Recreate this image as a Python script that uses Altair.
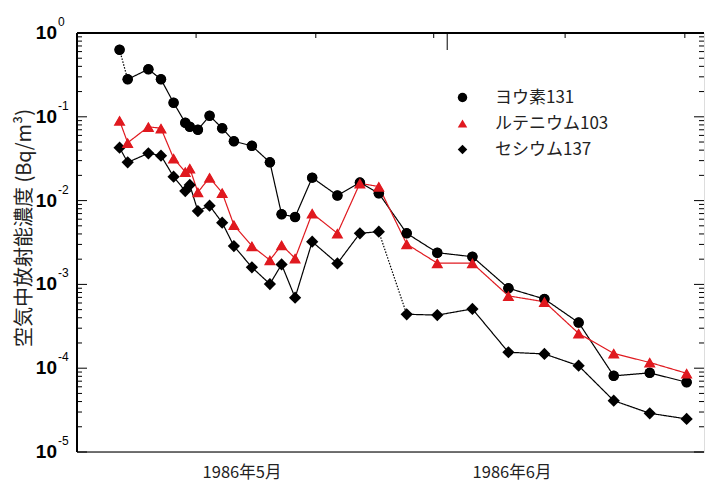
import altair as alt
import pandas as pd

# ---- data ----
series_names = ["ヨウ素131", "ルテニウム103", "セシウム137"]
# sampling time, in days counted from 1986-05-01 (= day 1)
days = [2.4, 3.3, 5.6, 7.0, 8.4, 9.7, 10.2, 11.1, 12.4, 13.8, 15.1, 17.1, 19.1, 20.4,
        21.9, 23.8, 26.6, 29.1, 31.2, 34.3, 37.7, 41.6, 45.6, 49.6, 53.4, 57.3, 61.3, 65.4]
iodine131 = [0.63, 0.28, 0.37, 0.28, 0.147, 0.085, 0.076, 0.070, 0.103, 0.073, 0.051, 0.045,
             0.0286, 0.00686, 0.00637, 0.0188, 0.0115, 0.0164, 0.0122, 0.00407, 0.00239,
             0.00214, 0.00090, 0.00067, 0.00035, 8.1e-5, 8.8e-5, 6.8e-5]
ruthenium103 = [0.090, 0.049, 0.076, 0.073, 0.032, 0.022, 0.0243, 0.0126, 0.0188, 0.0124,
                0.00512, 0.00287, 0.00195, 0.00295, 0.00205, 0.00705, 0.00407, 0.0161,
                0.0147, 0.00303, 0.00179, 0.00179, 0.00073, 0.00062, 0.00026, 0.000150,
                0.000117, 8.7e-5]
cesium137 = [0.0428, 0.0286, 0.0367, 0.0344, 0.0193, 0.0130, 0.0154, 0.0075, 0.0087, 0.00545,
             0.00287, 0.0016, 0.00101, 0.00173, 0.000695, 0.00323, 0.00178, 0.00407, 0.00426,
             0.00044, 0.00043, 0.00051, 0.000155, 0.000148, 0.000107, 4.1e-5, 2.9e-5, 2.48e-5]
dotted_segments = [("ヨウ素131", 0), ("セシウム137", 18)]

month_labels = ["1986年5月", "1986年6月"]
month_label_days = [16, 46]
top_tick_days = [10.9, 24.2, 37.3, 51.9, 65.2]
long_top_tick_days = [38.8]
decade_exponents = [0, -1, -2, -3, -4, -5]
y_title = "空気中放射能濃度 (Bq/m³)"

# ---- tables ----
W, H = 627, 419
values = {"ヨウ素131": iodine131, "ルテニウム103": ruthenium103, "セシウム137": cesium137}
colors = ["#000000", "#e0191f", "#000000"]
shapes = ["circle", "triangle-up", "diamond"]
marker_sizes = [110, 140, 150]
color_of = dict(zip(series_names, colors))
draw_order = ["ヨウ素131", "セシウム137", "ルテニウム103"]

pts = pd.DataFrame([{"series": s, "day": d, "v": v}
                    for s in draw_order for d, v in zip(days, values[s])])
major = pd.DataFrame({"v": [10.0 ** e for e in decade_exponents],
                      "exp": [str(e) for e in decade_exponents]})
minor = pd.DataFrame({"v": [k * 10.0 ** e for e in decade_exponents[1:] for k in range(2, 10)]})
months = pd.DataFrame({"day": month_label_days, "label": month_labels})
top_ticks = pd.DataFrame({"day": top_tick_days})
long_ticks = pd.DataFrame({"day": long_top_tick_days})
one = pd.DataFrame({"a": [0]})

xs = alt.Scale(domain=[-2.33, 67.33], nice=False, zero=False)
ys = alt.Scale(type="log", domain=[1e-5, 1], nice=False)
cs = alt.Scale(domain=series_names, range=colors)
ss = alt.Scale(domain=series_names, range=shapes)
X = lambda f: alt.X(f, scale=xs, axis=None)
Y = lambda f: alt.Y(f, scale=ys, axis=None)

line_layers = []
for s in draw_order:
    for style, dash in [("solid", [1, 0]), ("dotted", [1.5, 1.5])]:
        seg = pd.DataFrame([{"x": days[i], "x2": days[i + 1],
                             "y": values[s][i], "y2": values[s][i + 1]}
                            for i in range(len(days) - 1)
                            if ((s, i) in dotted_segments) == (style == "dotted")])
        if len(seg):
            line_layers.append(
                alt.Chart(seg).mark_rule(strokeWidth=1.2, color=color_of[s],
                                         strokeDash=dash).encode(
                    x=X("x:Q"), x2="x2:Q", y=Y("y:Q"), y2="y2:Q"))

leg = alt.Legend(title=None, orient="none", legendX=377, legendY=56,
                 labelFontSize=17, labelFont="Noto Sans CJK JP", labelColor="#222",
                 symbolSize=90, symbolStrokeWidth=0, labelOffset=24, rowPadding=8,
                 padding=0)
# legend-bearing layer (legend symbols small, as in the reference)
points = alt.Chart(pts).mark_point(filled=True, opacity=1, size=100).encode(
    x=X("day:Q"), y=Y("v:Q"),
    color=alt.Color("series:N", scale=cs, legend=leg),
    shape=alt.Shape("series:N", scale=ss, legend=leg),
)
# the plotted markers, per series, in drawing order
marker_layers = []
for s in draw_order:
    k = series_names.index(s)
    marker_layers.append(
        alt.Chart(pd.DataFrame({"day": days, "v": values[s]})).mark_point(
            filled=True, opacity=1, shape=shapes[k], color=colors[k],
            size=marker_sizes[k]).encode(x=X("day:Q"), y=Y("v:Q")))

frame_top = alt.Chart(one).mark_rule(color="#000", strokeWidth=2).encode(
    x=alt.value(0), x2=alt.value(W), y=alt.value(0))
frame_left = alt.Chart(one).mark_rule(color="#000", strokeWidth=2).encode(
    x=alt.value(0), y=alt.value(0), y2=alt.value(H))
frame_bottom = alt.Chart(one).mark_rule(color="#444", strokeWidth=1.5).encode(
    x=alt.value(0), x2=alt.value(W), y=alt.value(H))

lmaj = alt.Chart(major).mark_rule(color="#000", strokeWidth=1).encode(
    y=Y("v:Q"), x=alt.value(0), x2=alt.value(10))
lmin = alt.Chart(minor).mark_rule(color="#000", strokeWidth=1).encode(
    y=Y("v:Q"), x=alt.value(0), x2=alt.value(5))
rmaj = alt.Chart(major).mark_rule(color="#000", strokeWidth=1).encode(
    y=Y("v:Q"), x=alt.value(W - 10), x2=alt.value(W))
rmin = alt.Chart(minor).mark_rule(color="#000", strokeWidth=1).encode(
    y=Y("v:Q"), x=alt.value(W - 5), x2=alt.value(W))
tticks = alt.Chart(top_ticks).mark_rule(color="#000", strokeWidth=1).encode(
    x=X("day:Q"), y=alt.value(0), y2=alt.value(5))
lticks = alt.Chart(long_ticks).mark_rule(color="#000", strokeWidth=1).encode(
    x=X("day:Q"), y=alt.value(0), y2=alt.value(17))

ten = alt.Chart(major).mark_text(text="10", font="Liberation Sans", fontSize=19,
                                 fontWeight="bold", align="right", baseline="middle",
                                 color="#000").encode(y=Y("v:Q"), x=alt.value(-20))
expo = alt.Chart(major).mark_text(font="Liberation Sans", fontSize=12, align="left",
                                  baseline="middle", dy=-11, color="#000").encode(
    y=Y("v:Q"), x=alt.value(-19), text="exp:N")

mlab = alt.Chart(months).mark_text(font="Noto Sans CJK JP", fontSize=16.5, align="center",
                                   baseline="middle", color="#222").encode(
    x=X("day:Q"), y=alt.value(H + 21), text="label:N")

ytitle = alt.Chart(one).mark_text(text=y_title, font="Noto Sans CJK JP", fontSize=20,
                                  angle=270, align="center", baseline="middle",
                                  color="#222").encode(x=alt.value(-52), y=alt.value(195))

chart = alt.layer(
    frame_bottom, lmaj, lmin, rmaj, rmin, tticks, lticks,
    *line_layers, points, *marker_layers, frame_top, frame_left, ten, expo, mlab, ytitle,
).properties(
    width=W, height=H,
    autosize=alt.AutoSizeParams(type="none"),
    padding={"left": 77, "top": 33, "right": 1, "bottom": 32},
).configure_view(stroke=None).configure(background="white")

chart.save("out.html", embed_options={"renderer": "svg", "actions": False})
